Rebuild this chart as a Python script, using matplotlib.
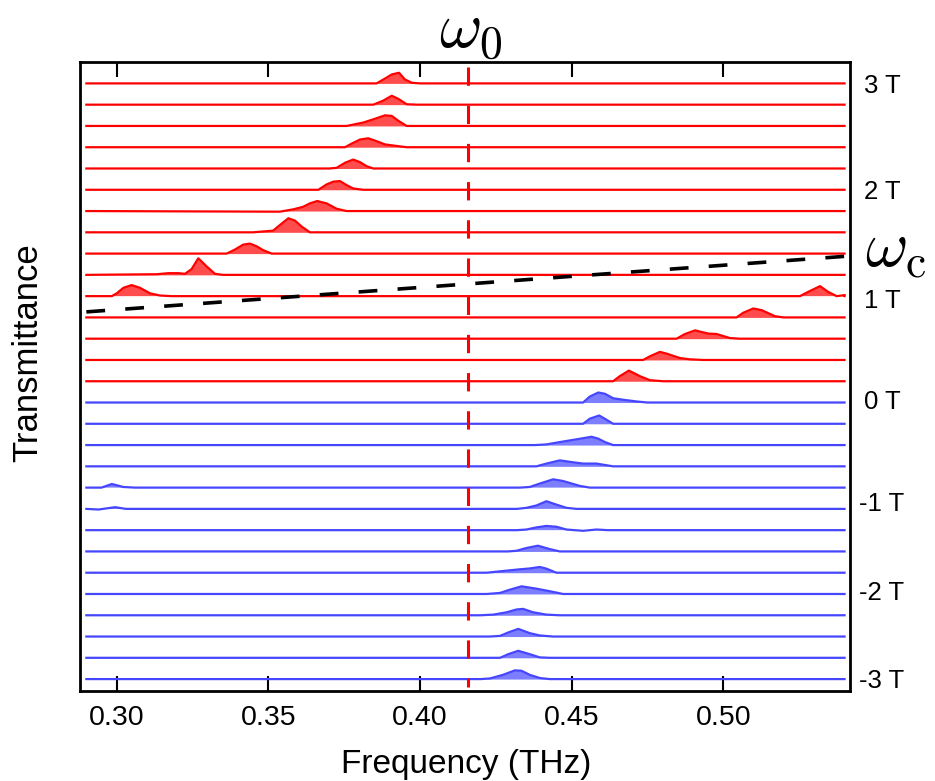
import matplotlib
matplotlib.use("Agg")
import matplotlib.pyplot as plt
import numpy as np

plt.rcParams['font.family'] = ['Liberation Sans', 'DejaVu Sans']
plt.rcParams['mathtext.fontset'] = 'cm'

# --- Data: peak vertices (frequency THz, height in trace-spacing units) ---
# traces listed from top (3 T) to bottom (-3 T); baseline is 0 elsewhere
f_start, f_end = 0.29, 0.54

red_traces = [
    [(0.3857, 0), (0.3885, 0.23), (0.3907, 0.42), (0.3931, 0.50), (0.3950, 0.19), (0.3973, 0.03), (0.4000, 0)],
    [(0.3846, 0), (0.3879, 0.19), (0.3907, 0.42), (0.3929, 0.27), (0.3956, 0.02), (0.3990, 0)],
    [(0.3758, 0), (0.3813, 0.16), (0.3846, 0.31), (0.3885, 0.50), (0.3907, 0.47), (0.3929, 0.24), (0.3956, 0)],
    [(0.3753, 0), (0.3775, 0.17), (0.3802, 0.36), (0.3829, 0.42), (0.3852, 0.31), (0.3885, 0.13), (0.3956, 0)],
    [(0.3700, 0), (0.3725, 0.03), (0.3753, 0.27), (0.3780, 0.42), (0.3802, 0.30), (0.3824, 0.11), (0.3846, 0)],
    [(0.3665, 0), (0.3692, 0.25), (0.3714, 0.38), (0.3736, 0.41), (0.3758, 0.22), (0.3780, 0.06), (0.3813, 0)],
    [(0.3538, -0.03), (0.3582, 0.08), (0.3615, 0.20), (0.3637, 0.36), (0.3661, 0.47), (0.3692, 0.36), (0.3725, 0.11), (0.3758, 0)],
    [(0.3450, 0), (0.3516, 0.08), (0.3538, 0.34), (0.3566, 0.66), (0.3588, 0.55), (0.3610, 0.27), (0.3637, 0)],
    [(0.3363, 0), (0.3390, 0.19), (0.3417, 0.42), (0.3439, 0.47), (0.3462, 0.34), (0.3483, 0.16), (0.3511, 0)],
    [(0.3132, 0.03), (0.3170, 0.08), (0.3203, 0.08), (0.3225, 0.05), (0.3247, 0.27), (0.3269, 0.78), (0.3297, 0.39), (0.3324, 0.05), (0.3350, 0)],
    [(0.2984, 0), (0.3000, 0.13), (0.3022, 0.39), (0.3049, 0.52), (0.3077, 0.39), (0.3110, 0.13), (0.3143, 0.03), (0.3180, 0),
     (0.5253, 0), (0.5280, 0.20), (0.5319, 0.47), (0.5346, 0.20), (0.5374, 0), (0.5401, 0.05)],
    [(0.5044, 0), (0.5066, 0.22), (0.5099, 0.42), (0.5127, 0.34), (0.5170, 0.06), (0.5198, 0)],
    [(0.4846, 0), (0.4874, 0.22), (0.4907, 0.39), (0.4951, 0.24), (0.4978, 0.22), (0.5022, 0.03), (0.5055, 0)],
    [(0.4736, 0), (0.4758, 0.17), (0.4791, 0.38), (0.4813, 0.30), (0.4857, 0.09), (0.4890, 0.03), (0.4934, 0)],
    [(0.4637, 0), (0.4659, 0.24), (0.4689, 0.50), (0.4725, 0.24), (0.4758, 0.05), (0.4802, 0)],
]

blue_traces = [
    [(0.4538, 0), (0.4560, 0.28), (0.4588, 0.47), (0.4610, 0.41), (0.4637, 0.20), (0.4670, 0.13), (0.4714, 0.05), (0.4750, 0)],
    [(0.4538, 0), (0.4560, 0.24), (0.4591, 0.39), (0.4615, 0.19), (0.4637, 0)],
    [(0.4380, 0), (0.4417, 0.03), (0.4461, 0.14), (0.4516, 0.27), (0.4566, 0.39), (0.4588, 0.30), (0.4610, 0.14), (0.4637, 0)],
    [(0.4384, 0), (0.4417, 0.13), (0.4461, 0.28), (0.4505, 0.19), (0.4538, 0.13), (0.4582, 0.13), (0.4637, 0)],
    [(0.2950, 0), (0.2984, 0.17), (0.3022, 0.03), (0.3060, 0),
     (0.4330, 0), (0.4362, 0.03), (0.4395, 0.19), (0.4439, 0.39), (0.4472, 0.31), (0.4527, 0.08), (0.4560, 0)],
    [(0.2940, -0.03), (0.2995, 0.08), (0.3030, 0),
     (0.4320, 0), (0.4351, 0.05), (0.4384, 0.16), (0.4417, 0.36), (0.4450, 0.20), (0.4483, 0.05), (0.4516, 0)],
    [(0.4320, 0), (0.4351, 0.03), (0.4384, 0.13), (0.4417, 0.20), (0.4450, 0.16), (0.4483, 0.03), (0.4538, -0.03), (0.4582, 0.03), (0.4620, 0)],
    [(0.4290, 0), (0.4318, 0.03), (0.4351, 0.16), (0.4389, 0.27), (0.4428, 0.11), (0.4461, 0)],
    [(0.4220, 0), (0.4274, 0.08), (0.4329, 0.16), (0.4362, 0.20), (0.4395, 0.27), (0.4417, 0.19), (0.4450, 0)],
    [(0.4220, 0), (0.4264, 0.05), (0.4296, 0.20), (0.4335, 0.36), (0.4384, 0.25), (0.4428, 0.13), (0.4472, 0)],
    [(0.4200, 0), (0.4242, 0.03), (0.4286, 0.14), (0.4318, 0.27), (0.4340, 0.30), (0.4373, 0.14), (0.4417, 0.03), (0.4460, 0)],
    [(0.4230, 0), (0.4264, 0.03), (0.4291, 0.19), (0.4324, 0.36), (0.4362, 0.16), (0.4395, 0.05), (0.4439, 0)],
    [(0.4264, 0), (0.4291, 0.17), (0.4324, 0.33), (0.4362, 0.17), (0.4395, 0.02), (0.4428, 0)],
    [(0.4200, 0), (0.4231, 0.03), (0.4274, 0.20), (0.4313, 0.41), (0.4335, 0.39), (0.4362, 0.20), (0.4395, 0.05), (0.4428, 0)],
]

field_labels = ["3 T", "2 T", "1 T", "0 T", "-1 T", "-2 T", "-3 T"]
field_rows = [0.13, 5.11, 10.23, 14.97, 19.76, 23.96, 28.1]

omega_0 = 0.4157
omega_c_f = [0.29, 0.54]
omega_c_row = [10.74, 8.13]

# --- Plot ---
fig = plt.figure(figsize=(9.35, 7.81), dpi=100)
ax = fig.add_axes([80 / 935, 1 - 691 / 781, 770 / 935, 629.3 / 781])

n = len(red_traces) + len(blue_traces)
top = n - 1

for i, tr in enumerate(red_traces + blue_traces):
    if i < len(red_traces):
        lc, fc = '#ff0000', '#ff4d4d'
    else:
        lc, fc = '#4646ff', '#7d7dff'
    base = top - i
    f = np.array([f_start] + [p[0] for p in tr] + [f_end])
    a = np.array([0.0] + [p[1] for p in tr] + [0.0])
    ax.fill_between(f, base, base + a, where=a > 0, interpolate=True,
                    color=fc, lw=0, zorder=2)
    ax.plot(f, base + a, color=lc, lw=1.6, zorder=3)

# omega_0 line
ax.plot([omega_0, omega_0], [top + 0.78, -0.37], color='#ff0000', lw=2.2,
        linestyle=(0, (6, 6.5)), zorder=4)
# omega_c line
ax.plot(omega_c_f, [top - r for r in omega_c_row], color='black', lw=2.6,
        linestyle=(0, (5.2, 5.6)), zorder=4)

for lab, r in zip(field_labels, field_rows):
    ax.text(1.0416, top - r, lab, transform=ax.get_yaxis_transform(),
            ha='center', va='center', fontsize=18.5)

fig.text(471 / 935, 1 - 32 / 781, r'$\omega_0$', ha='center', va='center', fontsize=47)
fig.text(896 / 935, 1 - 250 / 781, r'$\omega_{\mathrm{c}}$', ha='center', va='center', fontsize=47)

ax.set_xlim(0.2879, 0.5418)
ax.set_ylim(-0.56, top + 1.02)
ax.set_xticks([0.30, 0.35, 0.40, 0.45, 0.50])
ax.set_xticklabels(["0.30", "0.35", "0.40", "0.45", "0.50"])
ax.set_yticks([])
ax.tick_params(axis='x', direction='in', top=True, length=11, width=1.5,
               labelsize=20.5, pad=10)
for s in ax.spines.values():
    s.set_linewidth(2)

fig.text(466 / 935, 1 - 764 / 781, "Frequency (THz)", ha='center', va='center', fontsize=24)
fig.text(28 / 935, 1 - 353 / 781, "Transmittance", ha='center', va='center',
         rotation=90, fontsize=25)

fig.savefig("out.png", dpi=100)
